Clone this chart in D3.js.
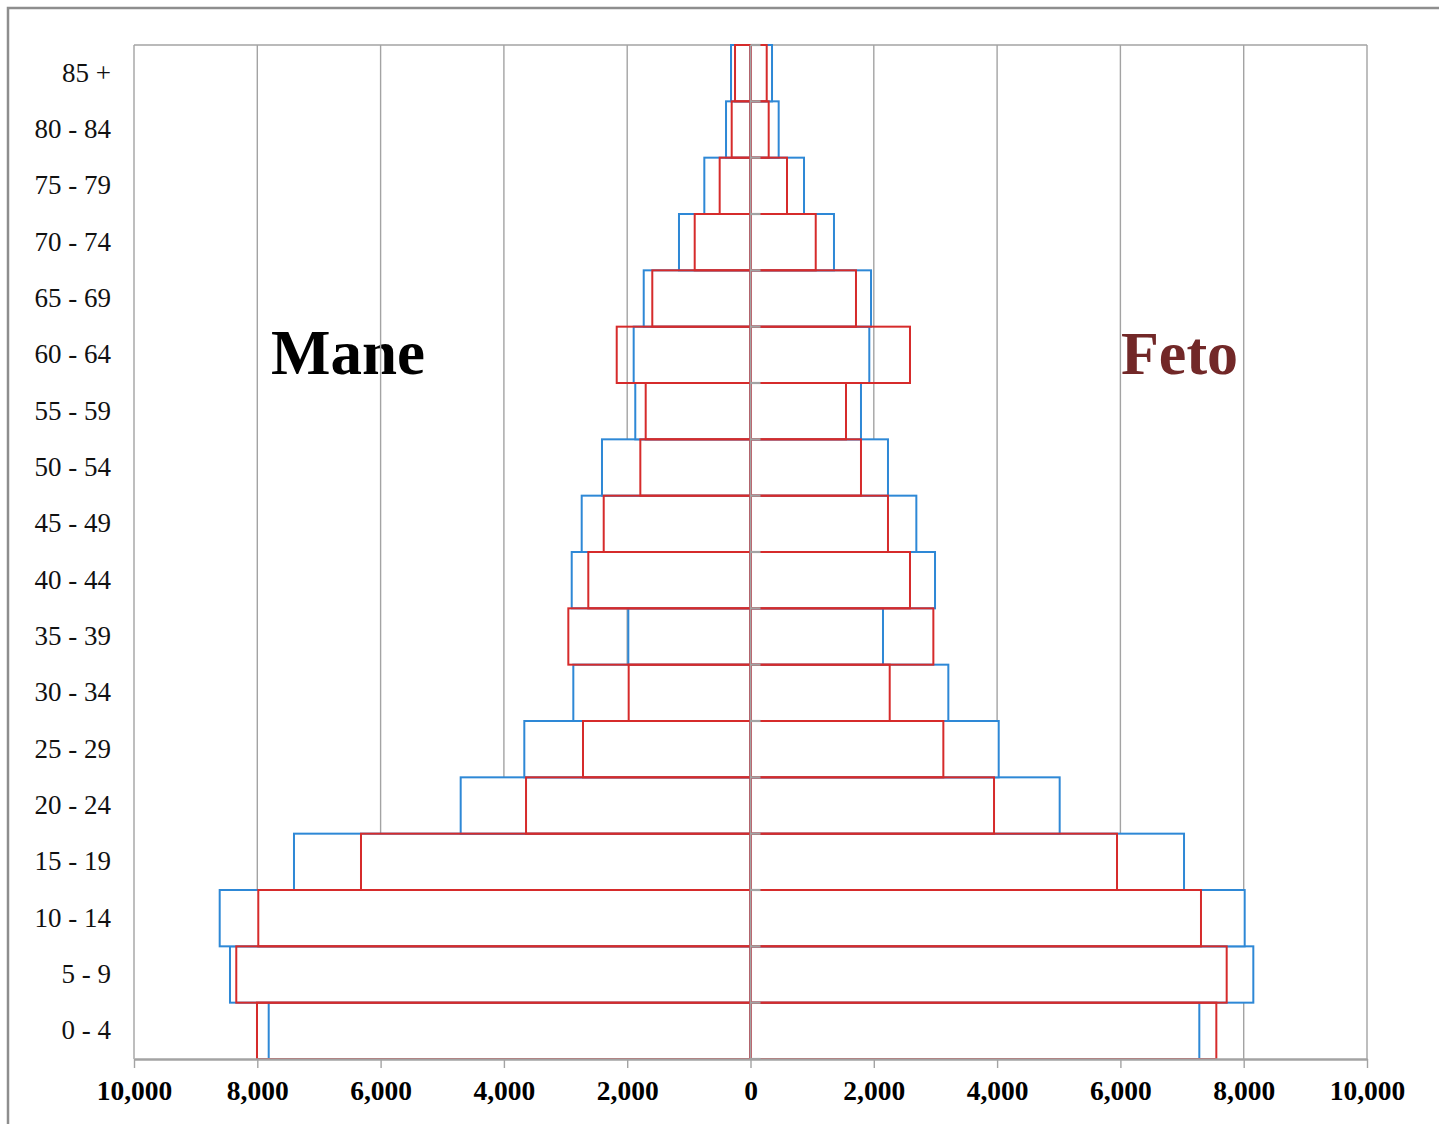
<!DOCTYPE html>
<html>
    <head>
        <meta charset="utf-8">
        <title>Mane / Feto</title>
        <script src="https://d3js.org/d3.v7.min.js"></script>
        <style>
            body {
                margin: 0;
                background-color: #ffffff;
                font-family: "Liberation Serif", "Times New Roman", serif;
            }
            svg {
                display: block;
            }
        </style>
    </head>
    <body>
        <svg width="1439" height="1124"></svg>

        <script>
            // age groups, bottom to top
            const ages = ["0 - 4", "5 - 9", "10 - 14", "15 - 19", "20 - 24", "25 - 29", "30 - 34", "35 - 39",
                "40 - 44", "45 - 49", "50 - 54", "55 - 59", "60 - 64", "65 - 69", "70 - 74", "75 - 79",
                "80 - 84", "85 +"];

            // blue series
            const maneBlue = [7815, 8443, 8610, 7405, 4701, 3669, 2874, 1982, 2900, 2738, 2409, 1869, 1895,
                1732, 1160, 749, 397, 316];
            const fetoBlue = [7280, 8156, 8016, 7032, 5015, 4026, 3209, 2149, 2993, 2690, 2230, 1792, 1927,
                1955, 1354, 868, 457, 349];

            // red series
            const maneRed = [8005, 8341, 7984, 6318, 3641, 2717, 1976, 2955, 2631, 2381, 1787, 1700, 2170,
                1593, 905, 500, 305, 251];
            const fetoRed = [7556, 7724, 7307, 5945, 3950, 3128, 2258, 2966, 2587, 2230, 1792, 1549, 2587,
                1711, 1058, 592, 295, 263];

            const xTicks = [-10000, -8000, -6000, -4000, -2000, 0, 2000, 4000, 6000, 8000, 10000];

            const svg = d3.select("svg");
            const plotLeft = 134, plotRight = 1367, plotTop = 45, plotBottom = 1059;
            const gridColor = "#a3a3a3";
            const blue = "#2e88d6";
            const red = "#d62b2b";
            const serif = "'Liberation Serif', 'Times New Roman', serif";

            let x = d3.scaleLinear().domain([-10000, 10000]).range([plotLeft, plotRight]);
            let y = d3.scaleBand().domain(ages.slice().reverse()).range([plotTop, plotBottom]).padding(0);

            // outer frame
            svg.append("rect")
                .attr("x", 8).attr("y", 8)
                .attr("width", 1600).attr("height", 1300)
                .attr("fill", "#ffffff")
                .attr("stroke", "#8e8e8e")
                .attr("stroke-width", 2.5);

            // side titles
            svg.append("text")
                .attr("x", 271).attr("y", 374)
                .attr("font-size", 63).attr("font-weight", "bold")
                .attr("fill", "#000000")
                .text("Mane");
            svg.append("text")
                .attr("x", 1121).attr("y", 374)
                .attr("font-size", 62).attr("font-weight", "bold")
                .attr("fill", "#722828")
                .text("Feto");

            // vertical gridlines
            svg.append("g")
                .selectAll("line")
                .data(xTicks)
                .enter()
                .append("line")
                .attr("x1", d => x(d)).attr("x2", d => x(d))
                .attr("y1", plotTop).attr("y2", plotBottom)
                .attr("stroke", gridColor)
                .attr("stroke-width", 1.4);

            // top border of plot area
            svg.append("line")
                .attr("x1", plotLeft).attr("x2", plotRight)
                .attr("y1", plotTop).attr("y2", plotTop)
                .attr("stroke", gridColor)
                .attr("stroke-width", 1.4);

            // helper: one series of bars, negative side for men
            function drawBars(values, sign, color, fill) {
                svg.append("g")
                    .selectAll("rect")
                    .data(values)
                    .enter()
                    .append("rect")
                    .attr("x", d => sign < 0 ? x(-d) : x(0))
                    .attr("width", d => Math.abs(x(d) - x(0)))
                    .attr("y", (d, i) => y(ages[i]))
                    .attr("height", y.bandwidth())
                    .attr("fill", fill)
                    .attr("stroke", color)
                    .attr("stroke-width", 2);
            }

            drawBars(maneBlue, -1, blue, "#ffffff");
            drawBars(fetoBlue, 1, blue, "#ffffff");
            drawBars(maneRed, -1, red, "none");
            drawBars(fetoRed, 1, red, "none");

            // centre axis with ticks at the band edges
            let edges = ages.map(a => y(a)).concat([plotBottom]);
            svg.append("line")
                .attr("x1", x(0)).attr("x2", x(0))
                .attr("y1", plotTop).attr("y2", plotBottom)
                .attr("stroke", gridColor)
                .attr("stroke-width", 1.6);
            svg.append("g")
                .selectAll("line")
                .data(edges)
                .enter()
                .append("line")
                .attr("x1", x(0)).attr("x2", x(0) + 10)
                .attr("y1", d => d).attr("y2", d => d)
                .attr("stroke", gridColor)
                .attr("stroke-width", 2.2);

            // bottom axis
            let xAxis = d3.axisBottom(x)
                .tickValues(xTicks)
                .tickFormat(d => d3.format(",")(Math.abs(d)))
                .tickSize(9)
                .tickSizeOuter(0);
            let gx = svg.append("g")
                .attr("transform", `translate(0,${plotBottom})`)
                .call(xAxis);
            gx.select(".domain").attr("stroke", gridColor).attr("stroke-width", 2.4);
            gx.selectAll(".tick line").attr("stroke", gridColor).attr("stroke-width", 1.4);
            gx.selectAll(".tick text")
                .attr("y", 41).attr("dy", 0)
                .attr("font-family", serif)
                .attr("font-size", 27.5)
                .attr("font-weight", "bold")
                .attr("fill", "#000000");

            // age labels
            let yAxis = d3.axisLeft(y).tickSize(0).tickPadding(23);
            let gy = svg.append("g")
                .attr("transform", `translate(${plotLeft},0)`)
                .call(yAxis);
            gy.select(".domain").remove();
            gy.selectAll(".tick text")
                .attr("font-family", serif)
                .attr("font-size", 27)
                .attr("fill", "#111111");
        </script>
    </body>
</html>
